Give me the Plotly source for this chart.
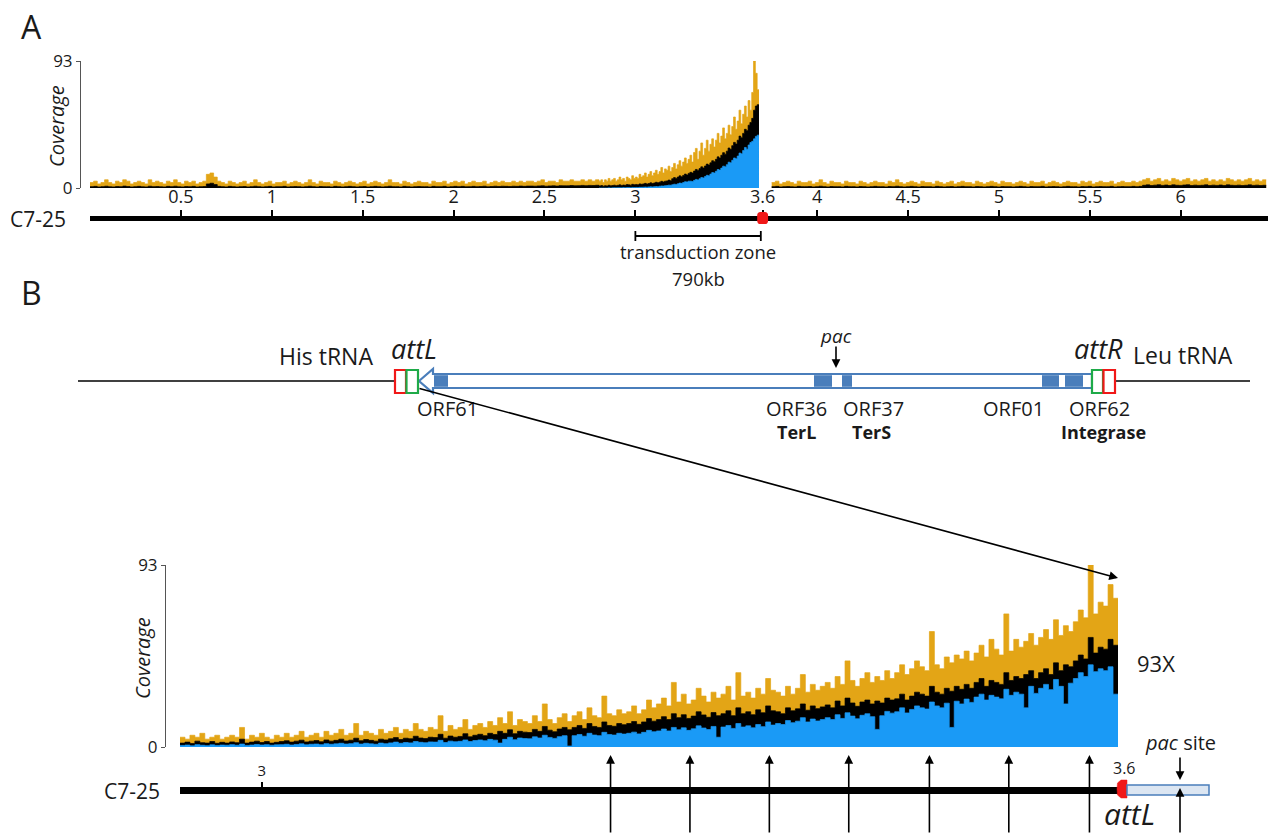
import plotly.graph_objects as go

W, H = 1278, 835
def px(x): return x / W
def py(y): return 1 - y / H

# ------------------------------------------------------------------ DATA
# Panel A – whole chromosome coverage (Mb bins)
A_BG_START, A_BG_BIN = 0.0, 0.02
A_BG_YELLOW = [4,5,3,4,6,4,3,5,4,6,5,3,4,5,4,3,6,4,5,4,3,5,4,6,4,3,5,4,5,3,4,5,
               10,11,8,5,
               4,3,5,4,3,4,5,3,4,6,4,3,4,5,3,4,4,5,3,4,
               5,4,3,4,6,4,3,5,4,4,3,5,4,3,4,5,4,3,4,5,
               3,4,5,4,3,4,6,4,4,3,5,4,3,4,5,4,4,3,5,4,
               4,5,3,4,5,4,5,3,4,5,4,4,5,3,4,5,4,5,4,4,
               5,4,5,4,5,5,4,5,6,4,5,5,4,6,5,5,6,5,5,6,
               5,6,5,6]
A_BG_BLACK = [1,1.2,0.8,1,1.3,0.9,0.8,1.1,1,1.4,1.1,0.8,1,1.2,0.9,0.8,1.3,1,1.1,0.9,0.8,1.2,1,1.3,0.9,0.8,1.1,1,1.2,0.8,1,1.1,
              3,3.5,2.5,1.2,
              1,0.8,1.2,1,0.8,1,1.1,0.8,1,1.3,1,0.8,1,1.2,0.8,1,1,1.2,0.8,1,
              1.1,1,0.8,1,1.3,1,0.8,1.1,1,1,0.8,1.2,1,0.8,1,1.2,1,0.8,1,1.1,
              0.8,1,1.2,1,0.8,1,1.3,1,1,0.8,1.2,1,0.8,1,1.1,1,1,0.8,1.2,1,
              1,1.2,0.8,1,1.2,1,1.2,0.9,1,1.2,1,1.1,1.3,0.9,1.1,1.3,1.1,1.3,1.2,1.1,
              1.3,1.2,1.4,1.2,1.4,1.4,1.3,1.5,1.6,1.3,1.5,1.6,1.4,1.7,1.6,1.6,1.8,1.6,1.7,1.9,
              1.7,1.9,1.8,2]
A_ZONE_START, A_ZONE_BIN = 2.80, 0.01
A_ZONE_YELLOW = [5,6,4,6,5,7,5,6,7,5,
                 6,8,6,7,5,8,7,6,9,7,
                 8,7,10,8,9,11,8,10,12,9,
                 11,13,10,12,15,11,14,13,16,12,
                 15,18,14,17,20,16,19,22,18,21,
                 24,19,26,29,21,27,33,24,29,35,
                 27,32,36,30,35,40,33,38,44,36,
                 40,46,39,45,52,43,49,57,47,54,
                 60,52,64,57,70,93,84,72]
A_ZONE_BLACK = [1.5,1.8,1.3,1.7,1.5,2,1.6,1.8,2.1,1.7,
                2,2.3,1.9,2.2,2,2.5,2.3,2.1,2.7,2.4,
                2.6,2.4,3,2.7,3,3.4,2.9,3.3,3.8,3.3,
                3.7,4.2,3.8,4.3,4.9,4.4,5,5.2,5.8,5.3,
                6.8,7.6,7,8,8.9,8.2,9.2,10.2,9.5,10.7,
                11.5,11,12.4,13.6,12.9,14.2,15.5,14.7,16.1,17.5,
                16.8,18.4,20,19.3,21,22.8,21.9,24,25.9,24.8,
                27,29.3,28.3,31,33.4,32.2,35,38,36.8,40,
                43,42,46,48,51,57,60,61]
A_ZONE_BLUE = [0,0,0,0,0,0.1,0,0.1,0.2,0.1,
               0.2,0.2,0.1,0.3,0.2,0.3,0.3,0.2,0.4,0.3,
               0.4,0.3,0.5,0.5,0.6,0.7,0.6,0.8,0.9,0.8,
               1,1.1,1,1.3,1.5,1.4,1.7,1.8,2.1,2,
               2.4,2.8,2.6,3.1,3.6,3.4,4,4.6,4.4,5,
               5,4.7,5.6,6.3,5.9,6.8,7.7,7.4,8.4,9.3,
               9,10.2,11.3,11,12.2,13.5,13.1,14.6,16,15.5,
               17.1,18.9,18.4,20.3,22,21.4,23.4,25.6,25,27.5,
               29.7,28.4,31.5,33.3,34.2,36,37.8,38.7]
A_RIGHT_START, A_RIGHT_BIN = 3.75, 0.02
A_RIGHT_YELLOW = [4,5,3,4,5,4,3,5,4,4,5,3,4,6,4,3,5,4,4,3,
                  5,4,4,3,5,4,3,4,5,4,4,3,5,4,6,4,3,4,5,4,
                  3,5,4,4,3,5,4,3,4,5,3,4,5,4,4,3,5,4,3,4,
                  5,4,3,5,4,4,3,4,5,4,3,5,4,4,5,3,4,5,4,3,
                  4,5,4,4,3,5,4,5,3,4,5,4,4,5,3,4,5,4,4,5,
                  4,5,
                  6,7,5,6,7,5,6,5,7,6,5,6,7,5,6,5,6,7,5,6,5,6,5,7,6,5,6,5,6,7,5,6,5,6]
A_RIGHT_BLACK = [1,1.2,0.8,1,1.1,0.9,0.8,1.2,1,1,1.1,0.8,1,1.3,1,0.8,1.1,1,1,0.8,
                 1.2,1,1,0.8,1.1,1,0.8,1,1.2,1,1,0.8,1.1,1,1.3,1,0.8,1,1.2,1,
                 0.8,1.1,1,1,0.8,1.2,1,0.8,1,1.1,0.8,1,1.2,1,1,0.8,1.1,1,0.8,1,
                 1.2,1,0.8,1.1,1,1,0.8,1,1.2,1,0.8,1.1,1,1,1.2,0.8,1,1.1,1,0.8,
                 1,1.2,1,1,0.8,1.1,1,1.2,0.8,1,1.1,1,1,1.2,0.8,1,1.1,1,1,1.2,
                 1,1.2,
                 2,2.3,1.8,2.1,2.4,1.9,2.2,1.8,2.3,2,1.9,2.2,2.4,1.8,2.1,1.9,2,2.3,1.8,2.1,1.9,2.2,1.8,2.3,2,1.9,2.1,1.8,2,2.3,1.9,2.1,1.8,2]
A_TICK_POS = [0.5, 1, 1.5, 2, 2.5, 3, 3.70, 4, 4.5, 5, 5.5, 6]
A_TICK_TEXT = ["0.5", "1", "1.5", "2", "2.5", "3", "3.6", "4", "4.5", "5", "5.5", "6"]
A_RANGE = [0, 6.48]
ATTL_A_MB = 3.70
ZONE_FROM_MB, ZONE_TO_MB = 3.0, 3.69

# Panel B – transduction zone close-up
B_START, B_BIN = 2.934, 0.004
B_YELLOW = [5,4,6,5,7,4,5,6,4,5,
            6,5,10,4,6,5,7,5,4,6,
            5,7,5,6,8,5,6,7,5,8,
            6,7,9,6,7,12,6,8,7,6,
            9,7,8,10,7,9,8,12,9,8,
            10,9,16,8,11,9,10,14,9,11,
            12,10,13,11,15,12,18,11,14,13,
            12,16,13,22,14,12,15,17,13,16,
            18,14,20,16,15,26,17,16,19,17,
            18,21,17,19,24,20,22,25,21,33,
            23,27,22,24,30,26,23,28,25,27,
            31,24,38,26,28,25,30,27,35,29,
            28,26,31,27,30,37,28,32,29,31,
            33,30,36,32,44,34,31,35,38,33,
            36,34,39,35,38,42,37,40,44,41,
            39,59,42,40,46,43,47,45,49,44,
            48,52,46,55,50,47,68,49,55,51,
            54,58,52,56,60,55,65,57,62,59,
            64,70,66,93,68,74,72,83,76]
B_BLACK = [2,2.5,1.8,3,2.2,2,2.8,1.9,2.4,2,
           2.6,2.2,4,2,2.5,3,2.3,2.8,2,2.4,
           2.8,3.2,2.5,3,3.5,2.6,3,3.3,2.7,3.6,
           3,3.4,4,3.1,3.5,4.5,3.2,3.8,3.4,3,
           4,3.6,4.2,4.8,3.8,4.5,4.2,5.5,4.6,4.3,
           5,4.8,6.5,4.5,5.6,5,5.4,6.8,5.2,6,
           6.5,5.8,7,6.4,8,7,8.8,6.8,8,7.6,
           7.4,9,8,10.5,8.6,7.8,9.2,10,8.8,10,
           11,9.5,12,10.5,10,12.8,11,10.6,12,11.4,
           12,13,11.6,12.8,14.5,13.2,14,15.5,14,17,
           15,16.5,14.6,15.8,18,16.4,15.2,17.6,16,17,
           18.5,16,20,17,18,16.5,19,17.5,21,18.5,
           18,17,20,18.5,19.5,22,18.8,21,19.6,20.5,
           21.5,20,23.5,21,25,22.5,20.8,23,24,22,
           23.5,22.5,25,24,24.6,27,24,26,28,27,
           26,31,28,27,30,28.5,31,29.5,32,30,
           33,35,31,34,33,32,38,34,36,35,
           37,39,35,38,40,37,43,39,42,41,
           44,47,45,56,48,51,50,55,52]
B_BLUE = [0.8,1,0.6,1.2,0.9,0.7,1.1,0.8,1,0.9,
          1.2,0.9,1.5,0.8,1,1.3,1,1.2,0.9,1.1,
          1.2,1.4,1,1.3,1.6,1.1,1.4,1.5,1.2,1.7,
          1.4,1.6,1.9,1.5,1.7,2.2,1.5,1.9,1.6,1.4,
          2,1.7,2.1,2.5,1.9,2.3,2.1,2.8,2.4,2.2,
          2.6,2.5,3.4,2.3,3,2.7,2.9,3.6,2.8,3.3,
          3.6,3.2,3.9,3.5,2,3.9,5,3.7,4.6,4.3,
          4.2,5.2,4.6,6,4.9,4.4,5.3,5.8,0.5,5.8,
          6.4,5.5,7,6.1,5.8,7.5,6.4,6.1,7,6.6,
          7,7.6,6.7,7.5,8.5,7.8,8.2,9.2,8.2,10,
          8.8,9.8,8.5,9.3,10.8,9.7,8.9,10.5,5,10.2,
          11,9.5,12,10.2,10.8,9.8,11.5,10.4,12.8,11.2,
          12,11.5,13.5,12.4,13.2,15,12.8,14.3,13.3,14,
          15,14,16.5,14.6,17.5,15.8,14.4,16.2,17,15.5,
          9,16,18.2,17.3,18,20,17.4,19.2,21,20,
          19.4,23,21,20,22.4,10,23.4,22,24.5,22.8,
          25.5,27,24,26.4,25.5,24.6,29.5,26.4,28,27,
          20,31,27.4,30,32,29.3,34.5,31,22,32.6,
          35,38,36,42,38.5,40,39,41,27]
B_RANGE = [2.934, 3.69]
B_TICK_POS = [3.0]
B_TICK_TEXT = ["3"]
HEADFUL_MB = [3.281, 3.345, 3.409, 3.473, 3.538, 3.602, 3.667]

# ------------------------------------------------------------------ STYLE
YEL = "#E3A516"
BLU = "#1A9AF6"
BLK = "#000000"
GENE = "#4A7EBB"
RED = "#F01818"
GRN = "#1EAA48"
TXT = "#1a1a1a"
F = "Open Sans"

def steps(start, binw, vals):
    xs = [start + i * binw for i in range(len(vals) + 1)]
    return xs, list(vals) + [vals[-1]]

def area(xs, ys, color, xa, ya):
    return go.Scatter(x=xs, y=ys, mode="lines", line=dict(color=color, width=0.7, shape="hv"),
                      fill="tozeroy", fillcolor=color, xaxis=xa, yaxis=ya, hoverinfo="skip")

fig = go.Figure()

# Panel A traces
bx, by = steps(A_BG_START, A_BG_BIN, A_BG_YELLOW)
zx, zy = steps(A_ZONE_START, A_ZONE_BIN, A_ZONE_YELLOW)
fig.add_trace(area(bx[:-1] + zx, by[:-1] + zy, YEL, "x", "y"))
rx, ry = steps(A_RIGHT_START, A_RIGHT_BIN, A_RIGHT_YELLOW)
fig.add_trace(area(rx, ry, YEL, "x", "y"))
bx, by = steps(A_BG_START, A_BG_BIN, A_BG_BLACK)
zx, zy = steps(A_ZONE_START, A_ZONE_BIN, A_ZONE_BLACK)
fig.add_trace(area(bx[:-1] + zx, by[:-1] + zy, BLK, "x", "y"))
rx, ry = steps(A_RIGHT_START, A_RIGHT_BIN, A_RIGHT_BLACK)
fig.add_trace(area(rx, ry, BLK, "x", "y"))
zx, zy = steps(A_ZONE_START, A_ZONE_BIN, A_ZONE_BLUE)
fig.add_trace(area(zx, zy, BLU, "x", "y"))

# Panel B traces
for vals, col in ((B_YELLOW, YEL), (B_BLACK, BLK), (B_BLUE, BLU)):
    xs, ys = steps(B_START, B_BIN, vals)
    fig.add_trace(area(xs, ys, col, "x2", "y2"))

ax_common = dict(showgrid=False, zeroline=False, showline=True, linecolor="black", ticks="outside",
                 tickcolor="black", fixedrange=True, automargin=False)

shapes, ann = [], []

def text(x, y, s, size, angle=0, xanchor="center"):
    ann.append(dict(x=px(x), y=py(y), xref="paper", yref="paper", text=s, showarrow=False,
                    textangle=angle, xanchor=xanchor, yanchor="middle",
                    font=dict(size=size, family=F, color=TXT)))

def arrow_px(xh, yh, xt, yt, w=1.6, size=1.1):
    ann.append(dict(x=px(xh), y=py(yh), xref="paper", yref="paper", ax=xt - xh, ay=yt - yh,
                    text="", showarrow=True, arrowhead=2, arrowsize=size, arrowwidth=w, arrowcolor="black"))

def line_px(x0, y0, x1, y1, color="black", w=1.3):
    shapes.append(dict(type="line", xref="paper", yref="paper", x0=px(x0), y0=py(y0), x1=px(x1), y1=py(y1),
                       line=dict(color=color, width=w)))

def rect_px(x0, y0, x1, y1, fill, line_color=None, w=0):
    shapes.append(dict(type="rect", xref="paper", yref="paper", x0=px(x0), y0=py(y0), x1=px(x1), y1=py(y1),
                       fillcolor=fill, line=dict(color=line_color or fill, width=w), layer="above"))

def path_px(pts, fill, line_color, w):
    d = "M " + " L ".join(f"{px(a):.5f},{py(b):.5f}" for a, b in pts) + " Z"
    shapes.append(dict(type="path", xref="paper", yref="paper", path=d, fillcolor=fill,
                       line=dict(color=line_color, width=w), layer="above"))

# ---------------- Panel A decorations
text(31, 26, "A", 32)
text(57, 126, "<i>Coverage</i>", 20, angle=-90)
text(38, 219, "C7-25", 21)
hw, hh = 0.030, 6 / H
yc = py(218)
r = 0.4
shapes.append(dict(type="path", xref="x", yref="paper", layer="above", fillcolor=RED, line=dict(color=RED, width=0),
                   path=(f"M {ATTL_A_MB-hw*r},{yc+hh} L {ATTL_A_MB+hw*r},{yc+hh} Q {ATTL_A_MB+hw},{yc+hh} {ATTL_A_MB+hw},{yc+hh*r} "
                         f"L {ATTL_A_MB+hw},{yc-hh*r} Q {ATTL_A_MB+hw},{yc-hh} {ATTL_A_MB+hw*r},{yc-hh} "
                         f"L {ATTL_A_MB-hw*r},{yc-hh} Q {ATTL_A_MB-hw},{yc-hh} {ATTL_A_MB-hw},{yc-hh*r} "
                         f"L {ATTL_A_MB-hw},{yc+hh*r} Q {ATTL_A_MB-hw},{yc+hh} {ATTL_A_MB-hw*r},{yc+hh} Z")))
for x0, y0, x1, y1 in ((ZONE_FROM_MB, py(236), ZONE_TO_MB, py(236)),
                       (ZONE_FROM_MB, py(231), ZONE_FROM_MB, py(241)),
                       (ZONE_TO_MB, py(231), ZONE_TO_MB, py(241))):
    shapes.append(dict(type="line", xref="x", yref="paper", x0=x0, y0=y0, x1=x1, y1=y1,
                       line=dict(color="black", width=1.8)))
text(698, 252, "transduction zone", 18.5)
text(698, 278, "790kb", 18.5)

# ---------------- Panel B gene map
text(31, 292, "B", 32)
line_px(78, 381, 396, 381)
line_px(1116, 381, 1250, 381)
path_px([(419, 381), (433, 369), (433, 374), (1092, 374), (1092, 388), (433, 388), (433, 393)],
        "white", GENE, 2.2)
for x0, x1 in ((434, 448), (814, 832), (842, 852), (1042, 1059), (1065, 1083)):
    rect_px(x0, 375.2, x1, 386.8, GENE)
for x0, x1, c in ((395, 406, RED), (406.5, 418, GRN), (1092, 1103, GRN), (1103.5, 1115, RED)):
    rect_px(x0, 370, x1, 393, "white", c, 2.2)
text(326, 356, "His tRNA", 23)
text(414, 348, "<i>attL</i>", 27)
text(447, 408, "ORF61", 20)
text(836, 336, "<i>pac</i>", 19)
arrow_px(836, 368, 836, 345, 1.6, 1.1)
text(796, 408, "ORF36", 20)
text(873, 408, "ORF37", 20)
text(1013, 408, "ORF01", 20)
text(1099, 408, "ORF62", 20)
text(796, 432, "<b>TerL</b>", 18)
text(871, 432, "<b>TerS</b>", 18)
text(1103, 432, "<b>Integrase</b>", 18)
text(1098, 349, "<i>attR</i>", 27)
text(1183, 355, "Leu tRNA", 23)
arrow_px(1118, 578, 418, 388, 1.6, 1.1)

# ---------------- Panel B close-up decorations
text(142, 658, "<i>Coverage</i>", 20, angle=-90)
text(132, 791, "C7-25", 21)
text(1156, 663, "93X", 22)
text(1124, 768, "3.6", 16)
path_px([(1127, 780), (1121, 780), (1117.5, 783), (1117, 789), (1117.5, 795), (1121, 798), (1127, 798)],
        RED, RED, 0.5)
rect_px(1127, 785, 1209, 795, "#DCE6F2", GENE, 1.5)
text(1129, 813, "<i>attL</i>", 30)
text(1180, 742, "<i>pac</i> site", 20)
arrow_px(1180, 780, 1180, 756, 1.6, 1.1)
arrow_px(1180, 788, 1180, 834, 1.6, 1.1)
for pos in HEADFUL_MB:
    ann.append(dict(x=pos, xref="x2", y=py(755), yref="paper", ax=0, ay=79, text="", showarrow=True,
                    arrowhead=2, arrowsize=1.1, arrowwidth=1.6, arrowcolor="black"))

fig.update_layout(
    width=W, height=H, margin=dict(l=0, r=0, t=0, b=0, pad=0, autoexpand=False),
    paper_bgcolor="white", plot_bgcolor="white", showlegend=False,
    xaxis=dict(ax_common, domain=[px(90), px(1268)], range=A_RANGE, anchor="free", position=py(218),
               side="top", linewidth=5, ticklen=6, tickwidth=2, tickvals=A_TICK_POS, ticktext=A_TICK_TEXT,
               tickfont=dict(size=18, family=F, color=TXT)),
    yaxis=dict(ax_common, domain=[py(188), py(61)], range=[0, 93], anchor="free", position=px(80),
               linewidth=1, linecolor="#555", tickcolor="#555", ticklen=4, tickwidth=1, tickvals=[0, 93],
               tickfont=dict(size=17, family=F, color=TXT)),
    xaxis2=dict(ax_common, domain=[px(180), px(1118)], range=B_RANGE, anchor="free", position=py(790),
                side="top", linewidth=7, ticklen=5, tickwidth=1.5, tickvals=B_TICK_POS, ticktext=B_TICK_TEXT,
                tickfont=dict(size=15, family=F, color=TXT)),
    yaxis2=dict(ax_common, domain=[py(747), py(565)], range=[0, 93], anchor="free", position=px(165),
                linewidth=1, linecolor="#555", tickcolor="#555", ticklen=4, tickwidth=1, tickvals=[0, 93],
                tickfont=dict(size=17, family=F, color=TXT)),
    shapes=shapes, annotations=ann,
)

fig.write_html("out.html", config={"displayModeBar": False, "staticPlot": True},
               post_script="document.body.style.margin='0';document.body.style.padding='0';document.body.style.overflow='hidden';")
